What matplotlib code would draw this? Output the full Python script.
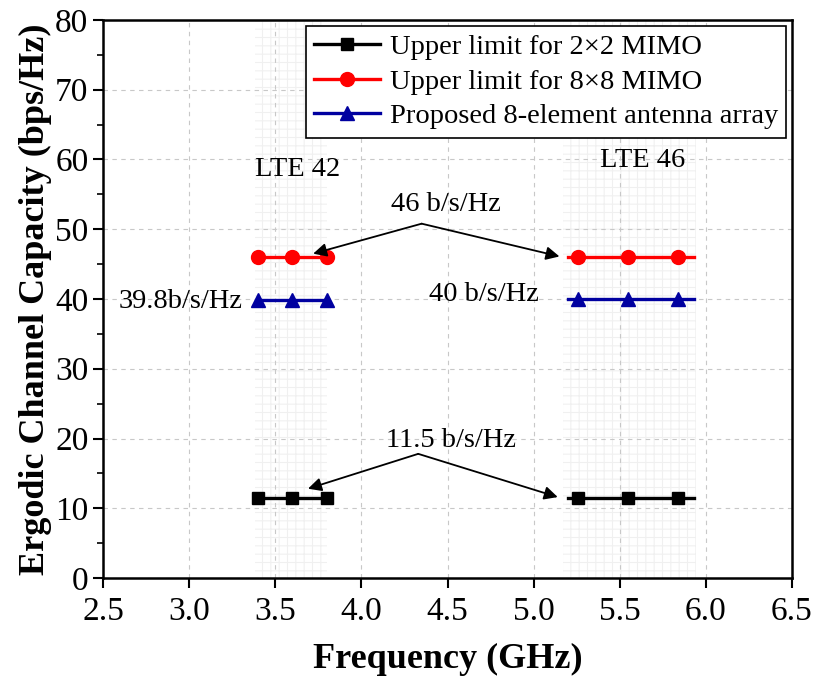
import matplotlib.pyplot as plt
import matplotlib as mpl
import numpy as np

plt.rcParams['font.family'] = ['Liberation Serif', 'DejaVu Serif']
mpl.rcParams['hatch.linewidth'] = 0.8

# LTE 42 band
f42 = [3.4, 3.6, 3.8]
mimo2_42 = [11.5, 11.5, 11.5]
mimo8_42 = [46, 46, 46]
prop_42 = [39.8, 39.8, 39.8]

# LTE 46 band (line runs past the markers)
f46 = [5.2, 5.26, 5.55, 5.84, 5.93]
mimo2_46 = [11.5, 11.5, 11.5, 11.5, 11.5]
mimo8_46 = [46, 46, 46, 46, 46]
prop_46 = [40, 40, 40, 40, 40]
marks46 = [1, 2, 3]

bands = [(3.38, 3.8), (5.17, 5.94)]

fig = plt.figure(figsize=(8.14, 6.77), dpi=100)
ax = fig.add_axes([103/814, 1-578/677, (792-103)/814, (578-20)/677])

for b in bands:
    ax.axvspan(b[0], b[1], facecolor='none', edgecolor='#f0f0f0', hatch='++', lw=0, zorder=0)

ax.grid(True, ls=(0, (4, 4)), color='#c8c8c8', lw=0.8)
ax.set_axisbelow(True)

kw = dict(lw=2.4)
ax.plot(f42, mimo2_42, color='black', marker='s', ms=9, label='Upper limit for 2\u00d72 MIMO', **kw)
ax.plot(f42, mimo8_42, color='#ff0000', marker='o', ms=10, label='Upper limit for 8\u00d78 MIMO', **kw)
ax.plot(f42, prop_42, color='#0000a0', marker='^', ms=10, label='Proposed 8-element antenna array', **kw)
ax.plot(f46, mimo2_46, color='black', marker='s', ms=9, markevery=marks46, **kw)
ax.plot(f46, mimo8_46, color='#ff0000', marker='o', ms=10, markevery=marks46, **kw)
ax.plot(f46, prop_46, color='#0000a0', marker='^', ms=10, markevery=marks46, **kw)

ax.set_xlim(2.5, 6.5)
ax.set_ylim(0, 80)
ax.set_xticks(np.arange(2.5, 6.51, 0.5))
ax.set_yticks(np.arange(0, 81, 10))
ax.set_yticks(np.arange(5, 80, 10), minor=True)
ax.tick_params(which='major', direction='out', length=7, width=1.5, labelsize=24)
ax.tick_params(axis='x', pad=6)
ax.tick_params(which='minor', direction='out', length=4, width=1.2)
for s in ax.spines.values():
    s.set_linewidth(1.8)

ax.set_xlabel('Frequency (GHz)', fontsize=26, fontweight='bold', labelpad=12)
ax.set_ylabel('Ergodic Channel Capacity (bps/Hz)', fontsize=26, fontweight='bold', labelpad=2)

fs = 20.5
aprops = dict(arrowstyle='-|>', color='black', lw=1.3, mutation_scale=20, shrinkA=0, shrinkB=0)
ax.text(4.49, 53.5, '46 b/s/Hz', fontsize=fs, ha='center', va='center')
ax.annotate('', xy=(3.72, 46.5), xytext=(4.35, 50.8), arrowprops=aprops)
ax.annotate('', xy=(5.15, 46.1), xytext=(4.35, 50.8), arrowprops=aprops)
ax.text(4.52, 19.7, '11.5 b/s/Hz', fontsize=fs, ha='center', va='center')
ax.annotate('', xy=(3.69, 12.8), xytext=(4.33, 17.8), arrowprops=aprops)
ax.annotate('', xy=(5.14, 11.6), xytext=(4.33, 17.8), arrowprops=aprops)
ax.text(4.71, 40.6, '40 b/s/Hz', fontsize=fs, ha='center', va='center')
ax.text(2.95, 39.6, '39.8b/s/Hz', fontsize=fs, ha='center', va='center')
ax.text(3.63, 58.5, 'LTE 42', fontsize=fs, ha='center', va='center')
ax.text(5.63, 59.9, 'LTE 46', fontsize=fs, ha='center', va='center')

leg = ax.legend(loc='upper right', fontsize=20.5, frameon=True, fancybox=False,
                edgecolor='black', framealpha=1, handlelength=2.3, borderaxespad=0.2,
                labelspacing=0.3, borderpad=0.3, handletextpad=0.35)
leg.get_frame().set_linewidth(1.2)

fig.savefig('out.png', dpi=100)
